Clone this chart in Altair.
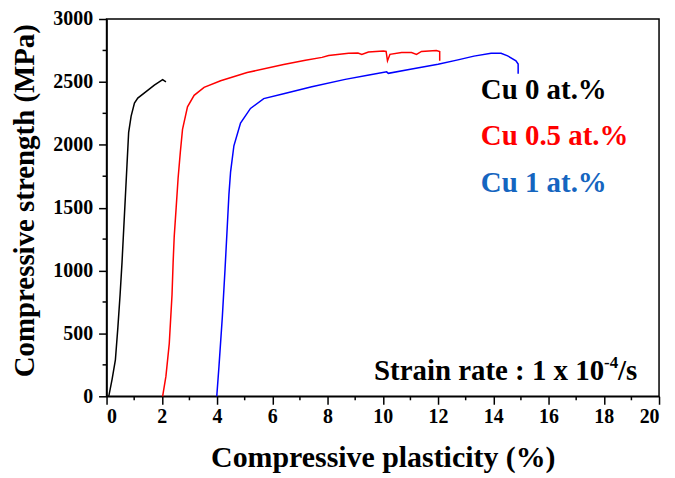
import altair as alt
import pandas as pd

# ---- data ----
cu0_x = [0.08, 0.20, 0.32, 0.41, 0.49, 0.56, 0.62, 0.68, 0.74, 0.80, 0.89, 1.01, 1.13, 1.43, 1.73, 2.03, 2.15]
cu0_y = [0, 134, 290, 548, 807, 1065, 1324, 1582, 1841, 2099, 2228, 2332, 2371, 2423, 2474, 2518, 2500]

cu05_x = [2.03, 2.15, 2.27, 2.37, 2.41, 2.45, 2.52, 2.59, 2.67, 2.75, 2.93, 3.17, 3.53, 4.13, 5.09, 6.41,
          7.20, 7.80, 8.04, 8.76, 9.10, 9.24, 9.48, 10.02, 10.12, 10.17, 10.26, 10.68, 11.04, 11.22,
          11.40, 11.94, 12.06, 12.06]
cu05_y = [0, 160, 419, 807, 1065, 1272, 1500, 1734, 1940, 2122, 2302, 2393, 2457, 2509, 2574, 2638,
          2672, 2695, 2710, 2728, 2730, 2718, 2738, 2745, 2742, 2668, 2719, 2733, 2733, 2719,
          2742, 2750, 2742, 2668]

cu1_x = [3.99, 4.07, 4.19, 4.29, 4.37, 4.43, 4.49, 4.61, 4.85, 5.21, 5.69, 6.41, 7.43, 8.64, 9.50,
         10.14, 10.20, 11.00, 12.00, 12.72, 13.30, 13.92, 14.28, 14.52, 14.82, 14.90, 14.90]
cu1_y = [0, 239, 626, 1014, 1350, 1605, 1785, 1992, 2173, 2289, 2367, 2405, 2461, 2520, 2555,
         2580, 2568, 2600, 2640, 2675, 2705, 2727, 2727, 2707, 2668, 2642, 2564]

series_names = ["Cu 0 at.%", "Cu 0.5 at.%", "Cu 1 at.%"]
line_colors = ["#000000", "#ff0000", "#0000ff"]
text_colors = ["#000000", "#ff0000", "#1565c0"]

x_ticks = [0, 2, 4, 6, 8, 10, 12, 14, 16, 18, 20]
x_minor = [1, 3, 5, 7, 9, 11, 13, 15, 17, 19]
y_ticks = [0, 500, 1000, 1500, 2000, 2500, 3000]
y_minor = [250, 750, 1250, 1750, 2250, 2750]

rows = []
for name, xs, ys in zip(series_names, [cu0_x, cu05_x, cu1_x], [cu0_y, cu05_y, cu1_y]):
    for i, (a, b) in enumerate(zip(xs, ys)):
        rows.append({"series": name, "i": i, "x": a, "y": b})
df = pd.DataFrame(rows)

FONT = "Times New Roman, Liberation Serif, DejaVu Serif, serif"
W, H = 555, 379

xscale = alt.Scale(domain=[0, 20], nice=False, zero=False)
yscale = alt.Scale(domain=[0, 3000], nice=False)

lines = alt.Chart(df).mark_line(strokeWidth=1.5).encode(
    x=alt.X("x:Q", scale=xscale,
            axis=alt.Axis(values=x_ticks, format="d", title="Compressive plasticity (%)", grid=False,
                          titleY=71, titleBaseline="alphabetic")),
    y=alt.Y("y:Q", scale=yscale,
            axis=alt.Axis(values=y_ticks, format="d", title="Compressive strength (MPa)", grid=False,
                          titleX=-82, titleY=182, titleBaseline="middle", titleAngle=270,
                          titleFontSize=29)),
    color=alt.Color("series:N", scale=alt.Scale(domain=series_names, range=line_colors), legend=None),
    order=alt.Order("i:Q"),
)

xminor_df = pd.DataFrame({"x": x_minor})
xminor = alt.Chart(xminor_df).mark_rule(color="black", strokeWidth=1.5).encode(
    x=alt.X("x:Q", scale=xscale), y=alt.value(H), y2=alt.value(H + 4)
)
yminor_df = pd.DataFrame({"y": y_minor})
yminor = alt.Chart(yminor_df).mark_rule(color="black", strokeWidth=1.5).encode(
    y=alt.Y("y:Q", scale=yscale), x=alt.value(0), x2=alt.value(-4)
)

legend_y = [2367, 1995, 1623]
texts = []
for name, col, yy in zip(series_names, text_colors, legend_y):
    texts.append(
        alt.Chart(pd.DataFrame({"t": [name]})).mark_text(
            font=FONT, fontWeight="bold", fontSize=29, color=col, align="left", baseline="alphabetic"
        ).encode(x=alt.datum(13.55, scale=xscale), y=alt.datum(yy, scale=yscale), text="t:N")
    )

strain_parts = ["Strain rate : 1 x 10", "-4", "/s"]
sx, sy = 19.2, 127
strain_main = alt.Chart(pd.DataFrame({"t": [strain_parts[0]]})).mark_text(
    font=FONT, fontWeight="bold", fontSize=29, color="black", align="right", baseline="alphabetic", dx=-33
).encode(x=alt.datum(sx, scale=xscale), y=alt.datum(sy, scale=yscale), text="t:N")
strain_sup = alt.Chart(pd.DataFrame({"t": [strain_parts[1]]})).mark_text(
    font=FONT, fontWeight="bold", fontSize=17, color="black", align="left", baseline="alphabetic", dx=-33, dy=-12
).encode(x=alt.datum(sx, scale=xscale), y=alt.datum(sy, scale=yscale), text="t:N")
strain_end = alt.Chart(pd.DataFrame({"t": [strain_parts[2]]})).mark_text(
    font=FONT, fontWeight="bold", fontSize=29, color="black", align="left", baseline="alphabetic", dx=-19
).encode(x=alt.datum(sx, scale=xscale), y=alt.datum(sy, scale=yscale), text="t:N")

chart = alt.layer(lines, xminor, yminor, *texts, strain_main, strain_sup, strain_end).properties(
    width=W, height=H,
    autosize=alt.AutoSizeParams(type="none"),
    padding={"left": 99, "top": 10, "right": 8, "bottom": 78},
).configure_view(
    stroke="black", strokeWidth=1.5
).configure_axis(
    domainColor="black", domainWidth=1.5, tickColor="black", tickWidth=1.5, tickSize=8,
    labelFont=FONT, labelFontWeight="bold", labelFontSize=20, labelColor="black",
    titleFont=FONT, titleFontWeight="bold", titleFontSize=30, titleColor="black",
).configure_axisX(labelPadding=2).configure_axisY(labelPadding=6)

chart.save("out.html", embed_options={"renderer": "svg", "actions": False})
